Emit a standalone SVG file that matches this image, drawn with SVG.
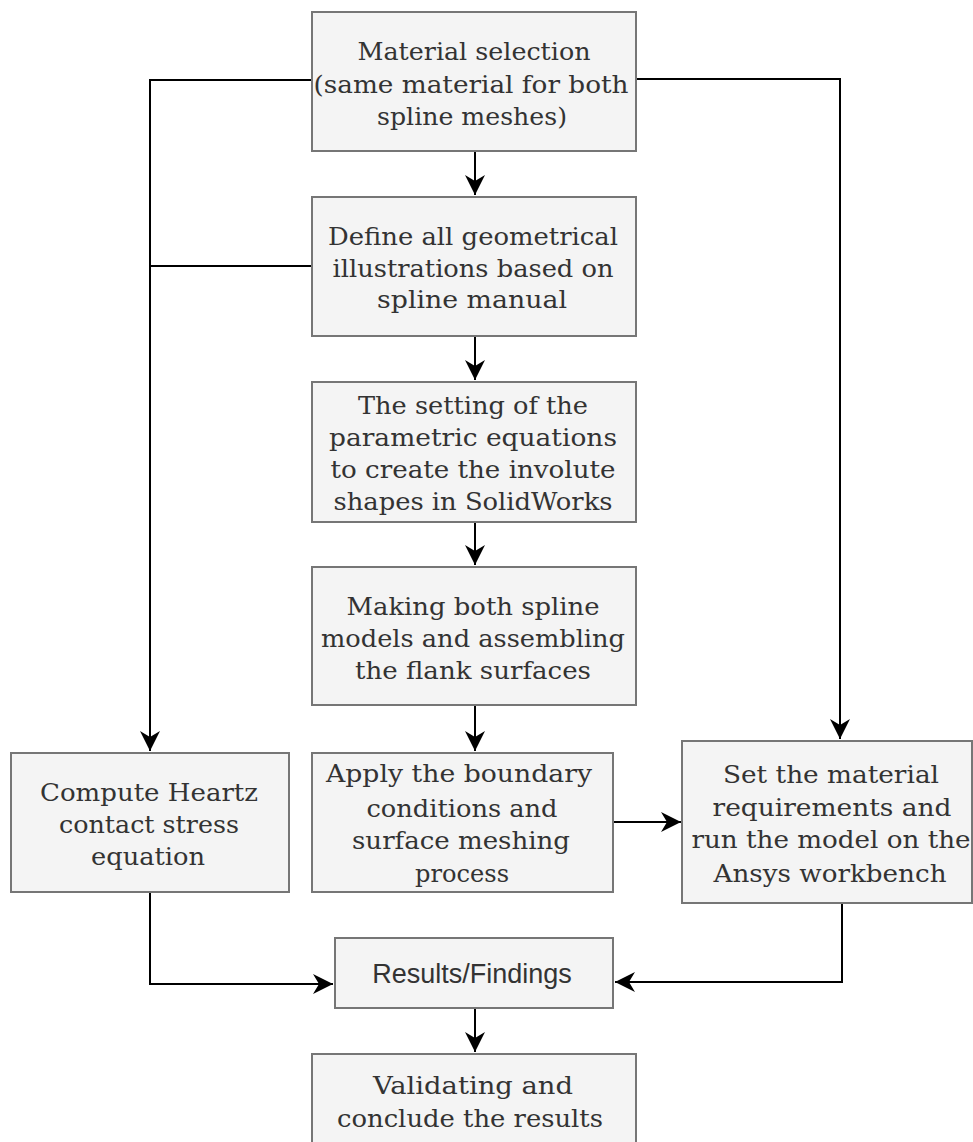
<svg xmlns="http://www.w3.org/2000/svg" width="973" height="1142" viewBox="0 0 973 1142">
<style>
.box{fill:#f4f4f4;stroke:#767676;stroke-width:2}
.t{font-family:"DejaVu Serif","Liberation Serif",serif;font-size:24px;fill:#333;text-anchor:middle}
.s{font-family:"Liberation Sans",Arial,sans-serif;font-size:27px;fill:#333;text-anchor:middle}
.c{fill:none;stroke:#000;stroke-width:2}
</style>
<defs>
<marker id="ah" markerUnits="userSpaceOnUse" markerWidth="22" markerHeight="20" refX="20" refY="10" orient="auto">
<path d="M0,0 L20,10 L0,20 L6,10 Z" fill="#000"/>
</marker>
</defs>
<rect width="973" height="1142" fill="#fff"/>
<g id="connectors">
<path class="c" d="M312,80 H150 V751" marker-end="url(#ah)"/>
<path class="c" d="M312,266 H150"/>
<path class="c" d="M636,79 H840 V739" marker-end="url(#ah)"/>
<path class="c" d="M475,151 V195" marker-end="url(#ah)"/>
<path class="c" d="M475,336 V380" marker-end="url(#ah)"/>
<path class="c" d="M475,522 V565" marker-end="url(#ah)"/>
<path class="c" d="M475,705 V751" marker-end="url(#ah)"/>
<path class="c" d="M613,822 H681" marker-end="url(#ah)"/>
<path class="c" d="M150,892 V984 H333" marker-end="url(#ah)"/>
<path class="c" d="M842,903 V982 H615" marker-end="url(#ah)"/>
<path class="c" d="M475,1008 V1052" marker-end="url(#ah)"/>
</g>
<g id="n1">
<rect class="box" x="312" y="12" width="324" height="139"/>
<text class="t" x="474" y="60" textLength="233" lengthAdjust="spacingAndGlyphs">Material selection</text>
<text class="t" x="471" y="93" textLength="315" lengthAdjust="spacingAndGlyphs">(same material for both</text>
<text class="t" x="472" y="125" textLength="190" lengthAdjust="spacingAndGlyphs">spline meshes)</text>
</g>
<g id="n2">
<rect class="box" x="312" y="197" width="324" height="139"/>
<text class="t" x="473" y="245" textLength="290" lengthAdjust="spacingAndGlyphs">Define all geometrical</text>
<text class="t" x="473" y="277" textLength="281" lengthAdjust="spacingAndGlyphs">illustrations based on</text>
<text class="t" x="472" y="308" textLength="190" lengthAdjust="spacingAndGlyphs">spline manual</text>
</g>
<g id="n3">
<rect class="box" x="312" y="382" width="324" height="140"/>
<text class="t" x="473" y="414" textLength="230" lengthAdjust="spacingAndGlyphs">The setting of the</text>
<text class="t" x="473" y="446" textLength="288" lengthAdjust="spacingAndGlyphs">parametric equations</text>
<text class="t" x="473" y="478" textLength="285" lengthAdjust="spacingAndGlyphs">to create the involute</text>
<text class="t" x="473" y="510" textLength="279" lengthAdjust="spacingAndGlyphs">shapes in SolidWorks</text>
</g>
<g id="n4">
<rect class="box" x="312" y="567" width="324" height="138"/>
<text class="t" x="473" y="615" textLength="253" lengthAdjust="spacingAndGlyphs">Making both spline</text>
<text class="t" x="473" y="647" textLength="304" lengthAdjust="spacingAndGlyphs">models and assembling</text>
<text class="t" x="473" y="679" textLength="236" lengthAdjust="spacingAndGlyphs">the flank surfaces</text>
</g>
<g id="n5">
<rect class="box" x="312" y="753" width="301" height="139"/>
<text class="t" x="459" y="782" textLength="266" lengthAdjust="spacingAndGlyphs">Apply the boundary</text>
<text class="t" x="462" y="817" textLength="191" lengthAdjust="spacingAndGlyphs">conditions and</text>
<text class="t" x="461" y="849" textLength="218" lengthAdjust="spacingAndGlyphs">surface meshing</text>
<text class="t" x="462" y="882" textLength="94" lengthAdjust="spacingAndGlyphs">process</text>
</g>
<g id="n6">
<rect class="box" x="11" y="753" width="278" height="139"/>
<text class="t" x="149" y="801" textLength="218" lengthAdjust="spacingAndGlyphs">Compute Heartz</text>
<text class="t" x="149" y="833" textLength="180" lengthAdjust="spacingAndGlyphs">contact stress</text>
<text class="t" x="148" y="865" textLength="114" lengthAdjust="spacingAndGlyphs">equation</text>
</g>
<g id="n7">
<rect class="box" x="682" y="741" width="290" height="162"/>
<text class="t" x="831" y="783" textLength="216" lengthAdjust="spacingAndGlyphs">Set the material</text>
<text class="t" x="832" y="816" textLength="239" lengthAdjust="spacingAndGlyphs">requirements and</text>
<text class="t" x="831" y="848" textLength="279" lengthAdjust="spacingAndGlyphs">run the model on the</text>
<text class="t" x="830" y="882" textLength="233" lengthAdjust="spacingAndGlyphs">Ansys workbench</text>
</g>
<g id="n8">
<rect class="box" x="335" y="938" width="278" height="70"/>
<text class="s" x="472" y="983">Results/Findings</text>
</g>
<g id="n9">
<rect class="box" x="312" y="1054" width="324" height="100"/>
<text class="t" x="473" y="1094" textLength="200" lengthAdjust="spacingAndGlyphs">Validating and</text>
<text class="t" x="470" y="1127" textLength="266" lengthAdjust="spacingAndGlyphs">conclude the results</text>
</g>
</svg>
